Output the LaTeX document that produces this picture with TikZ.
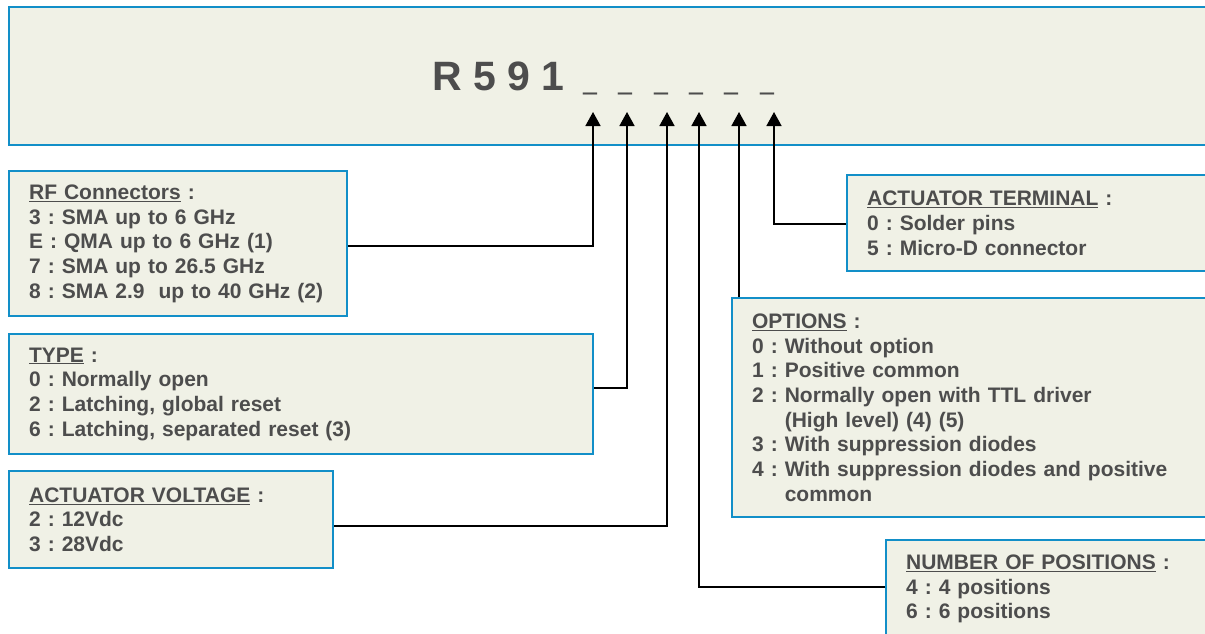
\documentclass[tikz,border=0pt]{standalone}
\usepackage{fontspec}
\setmainfont{Liberation Sans}
\usetikzlibrary{arrows.meta}
\definecolor{boxblue}{RGB}{18,143,200}
\definecolor{boxfill}{RGB}{240,241,230}
\definecolor{inkgray}{RGB}{77,77,77}
\frenchspacing
\newcommand\slot{\raisebox{2.5pt}{\scalebox{0.61}[1.3]{\_}}}
\newcommand\slotgap{\hspace{21.5pt}}
\begin{document}
\begin{tikzpicture}[x=1pt,y=-1pt,
  box/.style={draw=boxblue,line width=2.2pt,fill=boxfill,inner xsep=20pt,inner ysep=4pt,
    anchor=north west,align=left,text=inkgray,font=\bfseries\fontsize{21}{24.7}\selectfont},
  arr/.style={line width=1.6pt,-{Triangle[length=14pt,width=15pt]}}]
\useasboundingbox (0,0) rectangle (1205,633);
\clip (0,0) rectangle (1205,633);
% part number
\node[box,minimum width=1230pt,minimum height=138pt] (ref) at (8,6) {};
\node[anchor=base west,inner sep=0pt,text=inkgray,font=\bfseries\fontsize{41}{41}\selectfont] (code) at (432,90.7) {R 5 9 1};
\node[anchor=base west,inner sep=0pt,text=inkgray,font=\bfseries\fontsize{41}{41}\selectfont] (slots) at (583,90.7)
  {\slot\slotgap\slot\slotgap\slot\slotgap\slot\slotgap\slot\slotgap\slot};
\coordinate (d1) at (593,112);
\coordinate (d2) at (627,112);
\coordinate (d3) at (667,112);
\coordinate (d4) at (699,112);
\coordinate (d5) at (739,112);
\coordinate (d6) at (774,112);
% fields
\node[box,text width=298pt,minimum height=145pt] (rf) at (8,170)
  {\underline{RF Connectors} :\\
   3 : SMA up to 6 GHz\\
   E : QMA up to 6 GHz (1)\\
   7 : SMA up to 26.5 GHz\\
   8 : SMA 2.9~ up to 40 GHz (2)};
\node[box,text width=544pt,minimum height=120pt] (type) at (8,333)
  {\underline{TYPE} :\\
   0 : Normally open\\
   2 : Latching, global reset\\
   6 : Latching, separated reset (3)};
\node[box,text width=284pt,minimum height=97pt] (volt) at (8,470)
  {\underline{ACTUATOR VOLTAGE} :\\
   2 : 12Vdc\\
   3 : 28Vdc};
\node[box,text width=360pt,minimum height=96pt] (term) at (846,174)
  {\underline{ACTUATOR TERMINAL} :\\
   0 : Solder pins\\
   5 : Micro-D connector};
\node[box,text width=470pt,minimum height=219pt] (opt) at (731,297)
  {\underline{OPTIONS} :\\
   0 : Without option\\
   1 : Positive common\\
   2 : Normally open with TTL driver\\
   \phantom{2 : }(High level) (4) (5)\\
   3 : With suppression diodes\\
   4 : With suppression diodes and positive\\
   \phantom{4 : }common};
\node[box,text width=320pt,minimum height=98pt] (num) at (885,539)
  {\underline{NUMBER OF POSITIONS} :\\
   4 : 4 positions\\
   6 : 6 positions};
% connectors
\draw[arr] ([yshift=-2.5pt]rf.east) -| (d1);
\draw[arr] ([yshift=6pt]type.east) -| (d2);
\draw[arr] ([yshift=-6.5pt]volt.east) -| (d3);
\draw[arr] ([yshift=2pt]num.west) -| (d4);
\draw[arr] (opt.north -| d5) -- (d5);
\draw[arr] ([yshift=-1pt]term.west) -| (d6);
\end{tikzpicture}
\end{document}
